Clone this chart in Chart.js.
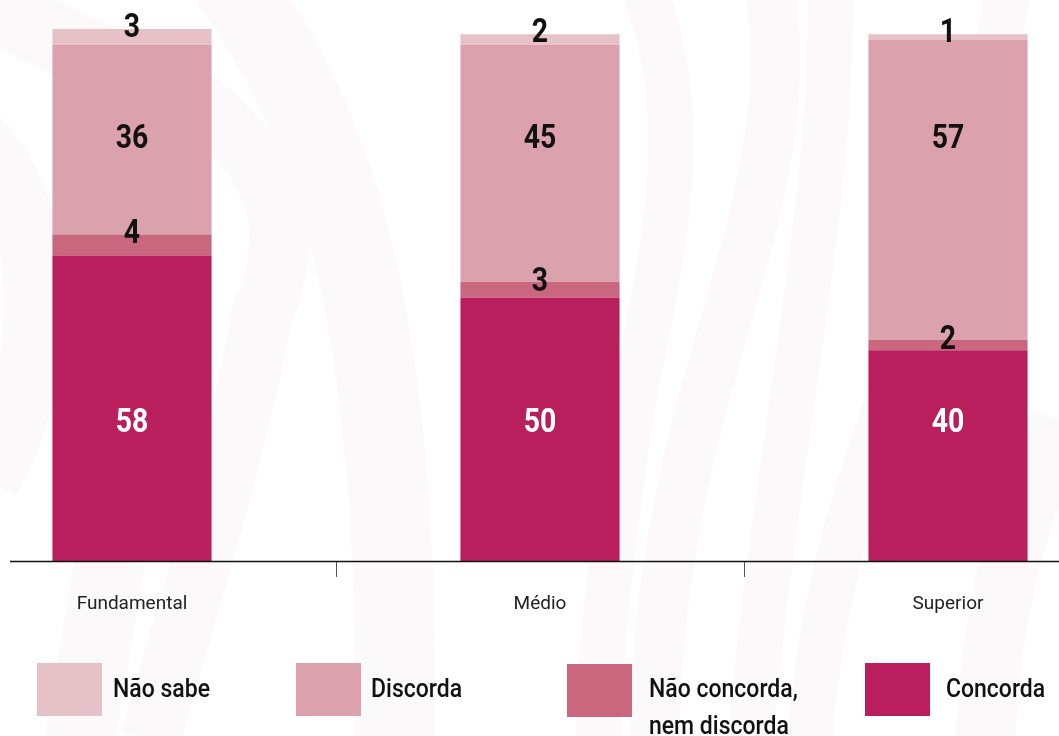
<!DOCTYPE html>
<html lang="pt-BR">
<head>
<meta charset="utf-8">
<title>Concorda ou discorda, por escolaridade</title>
<script src="https://cdn.jsdelivr.net/npm/chart.js@4.4.1/dist/chart.umd.min.js"></script>
<style>
  html, body { margin: 0; padding: 0; background: #fff; overflow: hidden; }
  body { width: 1059px; height: 736px; position: relative; }
  #caixa { position: absolute; top: 0; width: 1224px; height: 736px; }
  .leg-q { position: absolute; width: 65px; height: 53px; }
  .leg-t {
    position: absolute; font-family: Roboto, sans-serif; font-size: 25px; font-weight: 500;
    line-height: 37px; white-space: pre; color: #111;
    transform: scaleX(0.92); transform-origin: left top;
  }
</style>
</head>
<body>
<div id="caixa"><canvas id="grafico"></canvas></div>
<div id="legenda"></div>
<script>
// dados (%)
const categorias = ["Fundamental", "Médio", "Superior"];
const concorda = [58, 50, 40];
const naoConcorda = [4, 3, 2];
const discorda = [36, 45, 57];
const naoSabe = [3, 2, 1];

const cores = {
  concorda: "#b91f5d",
  naoConcorda: "#c8677e",
  discorda: "#dba1ac",
  naoSabe: "#e6c1c7",
};

// o canvas é mais largo que a janela para as barras ficarem onde estão no original
const DESLOC = 72;
document.getElementById("caixa").style.left = -DESLOC + "px";

// faixas onduladas bem claras do fundo (coordenadas da página)
const faixas = [
  { w: 80, p: [[230, -20], [330, 120], [400, 300], [395, 740]] },
  { w: 60, p: [[110, 50], [250, 120], [320, 200], [255, 330]] },
  { w: 60, p: [[265, 300], [240, 440], [190, 600], [150, 740]] },
  { w: 45, p: [[640, -20], [700, 120], [660, 260], [630, 420]] },
  { w: 45, p: [[630, 420], [610, 560], [600, 650], [598, 740]] },
  { w: 50, p: [[768, -20], [800, 150], [720, 300], [680, 500]] },
  { w: 50, p: [[680, 500], [660, 600], [655, 680], [655, 740]] },
  { w: 45, p: [[830, -20], [835, 200], [780, 420], [750, 740]] },
  { w: 45, p: [[1010, -20], [960, 300], [830, 450], [810, 740]] },
  { w: 70, p: [[-40, -10], [20, 20], [60, 40], [100, 60]] },
  { w: 60, p: [[-20, 140], [60, 220], [40, 400], [-10, 480]] },
  { w: 70, p: [[110, 560], [100, 620], [90, 680], [80, 740]] },
  { w: 60, p: [[1059, 420], [1000, 560], [990, 650], [985, 740]] },
];

const fundo = {
  id: "fundo",
  beforeDraw(chart) {
    const ctx = chart.ctx;
    ctx.save();
    ctx.fillStyle = "#fff";
    ctx.fillRect(0, 0, chart.width, chart.height);
    ctx.translate(DESLOC, 0);
    ctx.strokeStyle = "#fbf9fa";
    faixas.forEach((f) => {
      ctx.lineWidth = f.w;
      ctx.beginPath();
      ctx.moveTo(f.p[0][0], f.p[0][1]);
      ctx.bezierCurveTo(f.p[1][0], f.p[1][1], f.p[2][0], f.p[2][1], f.p[3][0], f.p[3][1]);
      ctx.stroke();
    });
    ctx.restore();
  },
};

// linha de base, começando um pouco depois da borda esquerda
const linhaBase = {
  id: "linhaBase",
  afterDatasetsDraw(chart) {
    const ctx = chart.ctx;
    const y0 = chart.scales.y.getPixelForValue(0);
    ctx.save();
    ctx.strokeStyle = "#111";
    ctx.lineWidth = 1.5;
    ctx.beginPath();
    ctx.moveTo(DESLOC + 10, y0 + 0.5);
    ctx.lineTo(chart.width, y0 + 0.5);
    ctx.stroke();
    ctx.restore();
  },
};

// rótulos com os valores dentro/sobre cada segmento
const rotulos = {
  id: "rotulos",
  afterDatasetsDraw(chart) {
    const ctx = chart.ctx;
    const y = chart.scales.y;
    ctx.save();
    ctx.font = "700 33px Roboto, sans-serif";
    ctx.textAlign = "center";
    ctx.textBaseline = "alphabetic";
    chart.data.datasets.forEach((ds, i) => {
      chart.getDatasetMeta(i).data.forEach((bar, j) => {
        const centro = ds.rotuloValor !== undefined
          ? y.getPixelForValue(ds.rotuloValor)
          : bar.y + ds.rotuloDesloc;
        ctx.save();
        ctx.translate(bar.x, centro + 12);
        ctx.scale(0.86, 1);
        ctx.fillStyle = ds.rotuloCor;
        ctx.fillText(String(ds.data[j]), 0, 0);
        ctx.restore();
      });
    });
    ctx.restore();
  },
};

const conjuntos = [
  { label: "Concorda", data: concorda, backgroundColor: cores.concorda, rotuloCor: "#fff", rotuloValor: 26.8 },
  { label: "Não concorda,\nnem discorda", data: naoConcorda, backgroundColor: cores.naoConcorda, rotuloCor: "#111", rotuloDesloc: -3 },
  { label: "Discorda", data: discorda, backgroundColor: cores.discorda, rotuloCor: "#111", rotuloValor: 80.6 },
  { label: "Não sabe", data: naoSabe, backgroundColor: cores.naoSabe, rotuloCor: "#111", rotuloDesloc: -4 },
];

new Chart(document.getElementById("grafico"), {
  type: "bar",
  data: {
    labels: categorias,
    datasets: conjuntos.map((c) => ({
      ...c,
      borderWidth: 0,
      categoryPercentage: 1,
      barPercentage: 0.39,
    })),
  },
  options: {
    responsive: true,
    maintainAspectRatio: false,
    animation: false,
    layout: { padding: { top: 29, left: 0, right: 0, bottom: 0 } },
    plugins: {
      legend: { display: false },
      tooltip: { enabled: false },
    },
    scales: {
      x: {
        stacked: true,
        border: { display: false },
        grid: {
          drawOnChartArea: false,
          drawTicks: true,
          tickLength: 16,
          color: "#555",
          lineWidth: 1,
          offset: true,
        },
        ticks: { font: { family: "Roboto", size: 19 }, color: "#222", padding: 16 },
        afterFit(s) { s.height = 175; },
      },
      y: { stacked: true, display: false, min: 0, max: 101 },
    },
  },
  plugins: [fundo, linhaBase, rotulos],
});

// legenda em HTML (ordem do original: de cima para baixo da pilha)
const posLegenda = [
  { q: [37, 663], t: [113, 670] },
  { q: [296, 663], t: [371, 670] },
  { q: [567, 664], t: [649, 670] },
  { q: [865, 663], t: [946, 670] },
];
const legenda = document.getElementById("legenda");
conjuntos.slice().reverse().forEach((c, i) => {
  const pos = posLegenda[i];
  const q = document.createElement("div");
  q.className = "leg-q";
  q.style.left = pos.q[0] + "px";
  q.style.top = pos.q[1] + "px";
  q.style.background = c.backgroundColor;
  const t = document.createElement("div");
  t.className = "leg-t";
  t.style.left = pos.t[0] + "px";
  t.style.top = pos.t[1] + "px";
  t.textContent = c.label;
  legenda.appendChild(q);
  legenda.appendChild(t);
});
</script>
</body>
</html>
